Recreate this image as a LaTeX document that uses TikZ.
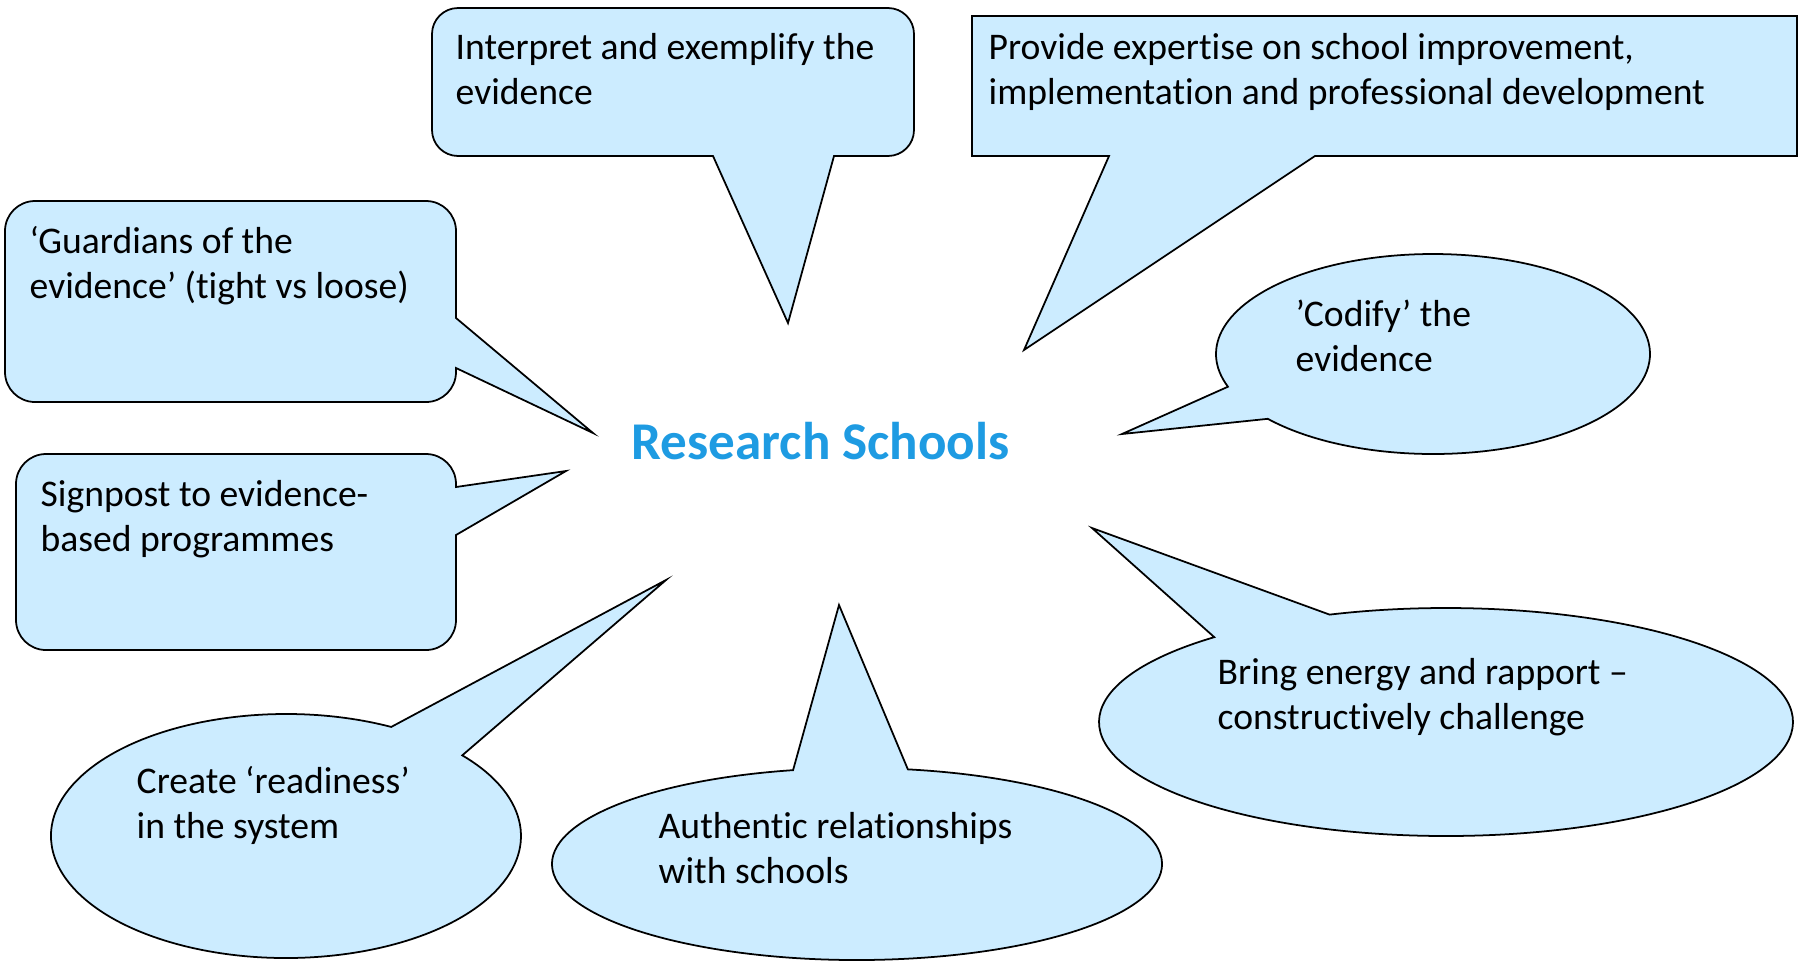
\documentclass[tikz,border=0pt]{standalone}
\usepackage{fontspec}
\setmainfont{Carlito}[Ligatures=NoCommon]
\definecolor{bubblefill}{RGB}{204,236,255}
\definecolor{schoolblue}{RGB}{30,155,226}

\begin{document}
\begin{tikzpicture}[x=0.01cm, y=0.01cm,
  bubble/.style={fill=bubblefill, draw=black, line width=0.5pt},
  says/.style={anchor=base west, align=left, inner sep=0pt,
               font=\fontsize{10.7}{12.6}\selectfont}]
\useasboundingbox (0, 0) rectangle (1800, -963);

% rounded box, pointer down
\draw [bubble]
     (713, -156)
  -- (458, -156) arc [start angle=270, end angle=180, radius=26]
  -- (432, -34)  arc [start angle=180, end angle=90, radius=26]
  -- (888, -8)   arc [start angle=90, end angle=0, radius=26]
  -- (914, -130) arc [start angle=0, end angle=-90, radius=26]
  -- (834, -156)
  -- (788, -323) coordinate (interpret tip)
  -- cycle;

% square box, pointer down-left
\draw [bubble]
     (1109, -156)
  -- (972, -156) -- (972, -16) -- (1797, -16) -- (1797, -156)
  -- (1315, -156)
  -- (1024, -350) coordinate (expertise tip)
  -- cycle;

% rounded boxes, pointer right
\draw [bubble]
     (456, -368)
  -- (593, -433) coordinate (guardians tip)
  -- (456, -318)
  -- (456, -231) arc [start angle=0, end angle=90, radius=30]
  -- (35, -201)  arc [start angle=90, end angle=180, radius=30]
  -- (5, -372)   arc [start angle=180, end angle=270, radius=30]
  -- (426, -402) arc [start angle=270, end angle=360, radius=30]
  -- cycle;

\draw [bubble]
     (456, -535)
  -- (566, -471) coordinate (signpost tip)
  -- (456, -487)
  -- (456, -484) arc [start angle=0, end angle=90, radius=30]
  -- (46, -454)  arc [start angle=90, end angle=180, radius=30]
  -- (16, -620)  arc [start angle=180, end angle=270, radius=30]
  -- (426, -650) arc [start angle=270, end angle=360, radius=30]
  -- cycle;

%%%%%%%%%%%%%%%%%%%%%%%%%%%%%%%%%%%%%%%%

% oval bubbles
\draw [bubble]
  (1433, -354) ++(220.4:217 and 100)
  arc [start angle=220.4, end angle=559.1, x radius=217, y radius=100]
  -- (1122, -434) coordinate (codify tip)
  -- cycle;

\draw [bubble]
  (1446, -722) ++(131.9:347 and 114)
  arc [start angle=131.9, end angle=469.6, x radius=347, y radius=114]
  -- (1092, -528) coordinate (energy tip)
  -- cycle;

\draw [bubble]
  (286, -836) ++(63.4:235 and 122)
  arc [start angle=63.4, end angle=401.4, x radius=235, y radius=122]
  -- (666, -580) coordinate (readiness tip)
  -- cycle;

\draw [bubble]
  (857, -864) ++(102.1:305 and 96)
  arc [start angle=102.1, end angle=440.4, x radius=305, y radius=96]
  -- (839, -605) coordinate (relations tip)
  -- cycle;

%%%%%%%%%%%%%%%%%%%%%%%%%%%%%%%%%%%%%%%%

% node base = last line
\node [says] (interpret) at (455, -104)  {Interpret and exemplify the\\evidence};
\node [says] (expertise) at (988, -104)  {Provide expertise on school improvement,\\implementation and professional development};
\node [says] (guardians) at (29, -298)   {‘Guardians of the\\evidence’ (tight vs loose)};
\node [says] (signpost)  at (40, -551)   {Signpost to evidence-\\based programmes};
\node [says] (codify)    at (1295, -371) {’Codify’ the\\evidence};
\node [says] (energy)    at (1217, -729) {Bring energy and rapport –\\constructively challenge};
\node [says] (readiness) at (136, -838)  {Create ‘readiness’\\in the system};
\node [says] (relations) at (658, -883)  {Authentic relationships\\with schools};

\node [anchor=base west, inner sep=0pt, text=schoolblue,
       font=\fontsize{15.1}{18}\selectfont\bfseries] (research) at (631, -459) {Research Schools};

\end{tikzpicture}
\end{document}
